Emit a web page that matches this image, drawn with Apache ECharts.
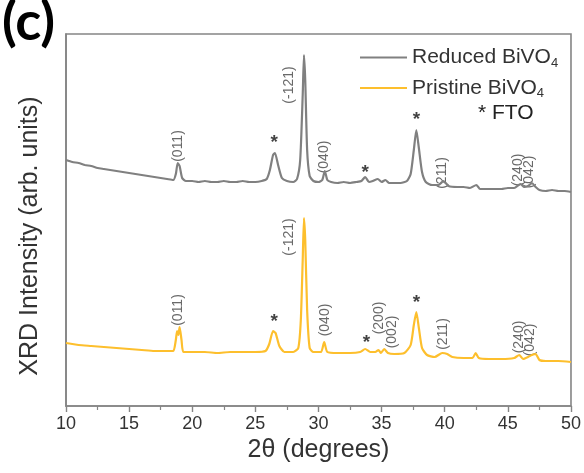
<!DOCTYPE html>
<html>
<head>
<meta charset="utf-8">
<script src="https://cdn.jsdelivr.net/npm/echarts@6/dist/echarts.min.js"></script>
<style>
  html, body { margin: 0; padding: 0; background: #fff; }
  #chart { width: 584px; height: 473px; }
</style>
</head>
<body>
<div id="chart"></div>
<script>
// XRD patterns, 2θ in degrees, intensity in arbitrary units (reduced film offset above pristine)
const reducedTheta = [10.0,10.5,11,11.5,12,12.5,13,13.5,14,14.5,15,15.5,16,16.5,17,17.5,18,18.5,18.7,18.85,19.0,19.2,19.5,20,20.5,21,21.5,22,22.5,23,23.5,24,24.5,25,25.5,25.9,26.15,26.4,26.55,26.8,27.1,27.5,28,28.3,28.55,28.75,28.85,28.95,29.1,29.3,29.6,30.0,30.3,30.5,30.7,31.0,31.5,32,32.5,33,33.4,33.7,34.0,34.3,34.7,35.0,35.3,35.6,36,36.5,37.0,37.3,37.55,37.75,37.95,38.2,38.5,39.0,39.5,39.9,40.3,41.0,41.5,42.0,42.5,42.8,43.5,44,44.5,45,45.5,46.0,46.3,46.6,46.9,47.2,47.5,48,48.5,49,49.5,50];
const reducedIntensity = [246,244,243,241,240,238,237,236,235,234,233,232,231,230,229,228,227,226,232,243,240,228,225,225,224,225,224,224,225,224,224,225,224,224,225,227,236,251,253,241,228,225,224,227,246,311,351,326,256,230,225,224,226,235,226,224,223,224,223,224,225,229,224,225,227,224,226,223,223,223,225,232,256,276,258,234,224,221,221,225,220,219,219,218,221,217,217,217,217,218,218,222,219,220,223,219,216,215,216,215,215,214];

const pristineTheta = [10,10.5,11,12,13,14,15,16,17,18,18.5,18.7,18.8,18.9,19.0,19.15,19.3,20,21,22,23,24,25,25.8,26.1,26.4,26.6,26.9,27.3,28.0,28.4,28.6,28.75,28.85,28.95,29.1,29.3,29.6,30.2,30.45,30.7,31.5,32.5,33.3,33.7,34.1,34.5,34.75,34.95,35.2,35.5,36,36.8,37.3,37.55,37.75,37.95,38.2,38.6,39.2,39.8,40.2,40.6,41.5,42.2,42.45,42.7,43.5,44.5,45.5,45.9,46.2,46.6,46.9,47.2,47.5,48,49,50];
const pristineIntensity = [63,62,61,60,59,58,57,56,55,55,55,66,75,71,79,66,54,54,54,53,54,54,54,55,62,75,73,60,54,54,58,86,146,188,166,96,58,54,54,64,54,53,53,54,57,54,54,56,53,57,53,52,53,61,81,94,78,58,51,49,53,52,49,48,48,53,48,47,47,48,51,47,49,51,52,46,45,45,44];

// Reflection annotations: text, 2θ position, height
const reducedLabelText  = ['(011)','*','(-121)','(040)','*','*','(211)','(240)','(042)'];
const reducedLabelTheta = [18.85,26.5,27.7,30.45,33.7,37.75,39.8,45.8,46.7];
const reducedLabelY     = [260,263,321,249,233,286,233,236,234];

const pristineLabelText  = ['(011)','*','(-121)','(040)','*','(200)','(002)','*','(211)','(240)','(042)'];
const pristineLabelTheta = [18.9,26.5,27.7,30.5,33.8,34.8,35.8,37.75,39.9,45.9,46.8];
const pristineLabelY     = [96,84,169,86,63,88,74,103,72,69,66];

const xTicks = { min: 10, max: 50, step: 5 };

const FONT = '"Liberation Sans", Arial, sans-serif';
const GRAY = '#808080';
const GOLD = '#fdbf2d';

function pairs(xs, ys) { return xs.map((x, i) => [x, ys[i]]); }

function labelData(texts, xs, ys) {
  return texts.map((t, i) => {
    const star = t === '*';
    return {
      value: [xs[i], ys[i]],
      label: star
        ? { formatter: '*', rotate: 0, fontSize: 19, fontWeight: 'bold', color: '#111' }
        : { formatter: t, rotate: 90, fontSize: 14, color: '#444' }
    };
  });
}

const chart = echarts.init(document.getElementById('chart'), null, { renderer: 'canvas' });

chart.setOption({
  animation: false,
  backgroundColor: '#fff',
  grid: {
    left: 66, right: 12, top: 34, bottom: 67,
    show: true, borderColor: '#858585', borderWidth: 1.6, backgroundColor: 'transparent'
  },
  xAxis: {
    type: 'value',
    min: xTicks.min, max: xTicks.max, interval: xTicks.step,
    name: '2θ (degrees)',
    nameLocation: 'middle',
    nameGap: 25,
    nameTextStyle: { fontFamily: FONT, fontSize: 25, color: '#333' },
    axisLine: { show: true, lineStyle: { color: '#858585', width: 1.6 } },
    axisTick: { show: true, inside: false, length: 6, lineStyle: { color: '#858585', width: 1.4 } },
    minorTick: { show: true, splitNumber: 2, length: 4, lineStyle: { color: '#858585', width: 1.2 } },
    axisLabel: { fontFamily: FONT, fontSize: 18, color: '#333', margin: 9 },
    splitLine: { show: false }
  },
  yAxis: {
    type: 'value',
    min: 0, max: 372,
    name: 'XRD Intensity (arb. units)',
    nameLocation: 'middle',
    nameGap: 23,
    nameTextStyle: { fontFamily: FONT, fontSize: 25, color: '#333', padding: [0, 32, 0, 0] },
    axisLine: { show: true, lineStyle: { color: '#858585', width: 1.6 } },
    axisTick: { show: false },
    axisLabel: { show: false },
    splitLine: { show: false }
  },
  legend: {
    data: ['Reduced BiVO4', 'Pristine BiVO4'],
    orient: 'vertical',
    left: 355, top: 42,
    icon: 'rect',
    itemWidth: 47, itemHeight: 2,
    itemGap: 8,
    formatter: name => name.replace('BiVO4', 'BiVO{sub|4}'),
    textStyle: {
      fontFamily: FONT, fontSize: 21, color: '#333',
      rich: { sub: { fontFamily: FONT, fontSize: 13, color: '#333', padding: [11, 0, 0, 0] } }
    }
  },
  graphic: [
    { type: 'text', left: 2, top: -4,
      style: { text: '(c)', font: 'bold 54px Lato, "Open Sans", sans-serif', fill: '#000' } },
    { type: 'text', left: 478, top: 103,
      style: { text: '* FTO', font: '21px ' + FONT, fill: '#222' } }
  ],
  series: [
    {
      name: 'Reduced BiVO4', type: 'line', data: pairs(reducedTheta, reducedIntensity),
      symbol: 'none', smooth: 0.2, lineStyle: { color: GRAY, width: 2.2 }, itemStyle: { color: GRAY }, z: 3
    },
    {
      name: 'Pristine BiVO4', type: 'line', data: pairs(pristineTheta, pristineIntensity),
      symbol: 'none', smooth: 0.2, lineStyle: { color: GOLD, width: 2.2 }, itemStyle: { color: GOLD }, z: 3
    },
    {
      name: 'reduced-hkl', type: 'scatter', symbolSize: 0, silent: true,
      data: labelData(reducedLabelText, reducedLabelTheta, reducedLabelY),
      label: { show: true, position: 'inside', fontFamily: FONT }
    },
    {
      name: 'pristine-hkl', type: 'scatter', symbolSize: 0, silent: true,
      data: labelData(pristineLabelText, pristineLabelTheta, pristineLabelY),
      label: { show: true, position: 'inside', fontFamily: FONT }
    }
  ]
});
</script>
</body>
</html>
